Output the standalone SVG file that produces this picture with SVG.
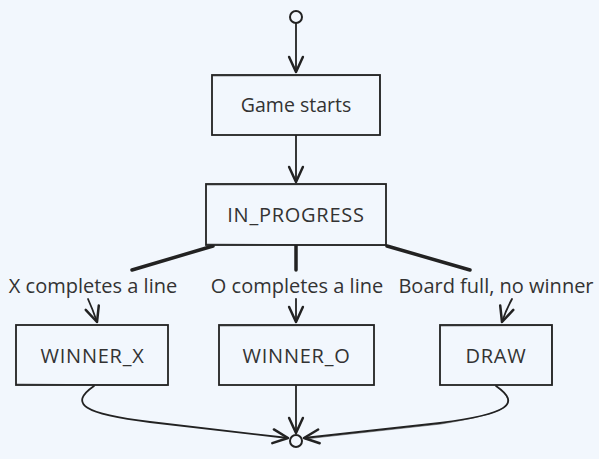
<svg xmlns="http://www.w3.org/2000/svg" width="599" height="459" viewBox="0 0 599 459">
<defs>
<marker id="arr" markerUnits="userSpaceOnUse" markerWidth="20" markerHeight="20" viewBox="-14 -8 16 16" refX="0" refY="0" orient="auto">
<path d="M-12,-5.5 L0,0 L-12,5.5" fill="none" stroke="#222" stroke-width="2" stroke-linecap="round" stroke-linejoin="round"/>
</marker>
<style>
.box{fill:#f2f7fd;stroke:#222;stroke-width:1.8}
.sk{fill:none;stroke:#222;stroke-width:0.8;opacity:0.6}
.lbl{font-family:"Open Sans","Liberation Sans",sans-serif;font-size:20px;fill:#333;text-anchor:middle}
.caps{letter-spacing:0.75px}
.edge{fill:none;stroke:#222;stroke-width:1.8;stroke-linecap:round}
.thick{fill:none;stroke:#222;stroke-width:3.5;stroke-linecap:round}
.pt{fill:#f2f7fd;stroke:#222;stroke-width:2}
</style>
</defs>
<rect x="0" y="0" width="599" height="459" fill="#f2f7fd"/>
<g id="connectors">
<path class="edge" d="M296,23 L296,72" marker-end="url(#arr)"/>
<path class="edge" d="M296,135 L296,182" marker-end="url(#arr)"/>
<path class="thick" d="M213,246 L132,270"/>
<path class="edge" d="M88,299 Q93,310 97,322" marker-end="url(#arr)"/>
<path class="thick" d="M296,245 L296,270"/>
<path class="edge" d="M296,299 L296,322" marker-end="url(#arr)"/>
<path class="thick" d="M387,246 L470,270"/>
<path class="edge" d="M512,299 Q506,310 502,322" marker-end="url(#arr)"/>
<path class="edge" d="M94,386 C68,404 84,414 150,422 L288,438" marker-end="url(#arr)"/>
<path class="edge" d="M296,386 L296,433" marker-end="url(#arr)"/>
<path class="edge" d="M496,386 C522,404 508,414 440,423 L304,438" marker-end="url(#arr)"/>
<path class="sk" d="M497,387 C521,405 507,413 441,424 L305,439"/>
<text class="lbl" x="93" y="292.5">X completes a line</text>
<text class="lbl" x="297" y="292.5">O completes a line</text>
<text class="lbl" x="496" y="292.5">Board full, no winner</text>
</g>
<g id="start"><circle class="pt" cx="296" cy="17" r="6"/></g>
<g id="game_starts">
<rect class="box" x="212" y="75" width="168" height="60"/>
<path class="sk" d="M213,76 L379,75.5 M379.5,76 L380.5,134"/>
<text class="lbl" x="296" y="112.3" style="font-size:19.5px">Game starts</text>
</g>
<g id="in_progress">
<rect class="box" x="206" y="184" width="180" height="61"/>
<path class="sk" d="M207,185 L385,184.5 M207,244 L385,245.5"/>
<text class="lbl caps" x="296" y="221.7">IN_PROGRESS</text>
</g>
<g id="winner_x">
<rect class="box" x="16" y="325" width="152" height="60"/>
<path class="sk" d="M17,384 L167,385.5"/>
<text class="lbl caps" x="92.5" y="363">WINNER_X</text>
</g>
<g id="winner_o">
<rect class="box" x="219" y="325" width="155" height="60"/>
<path class="sk" d="M220,326 L373,325.5"/>
<text class="lbl caps" x="296.5" y="363">WINNER_O</text>
</g>
<g id="draw">
<rect class="box" x="440" y="325" width="112" height="60"/>
<path class="sk" d="M441,326 L551,325.5 M551.5,326 L552,384"/>
<text class="lbl caps" x="496" y="363">DRAW</text>
</g>
<g id="end"><circle class="pt" cx="296" cy="441" r="6"/></g>
</svg>
